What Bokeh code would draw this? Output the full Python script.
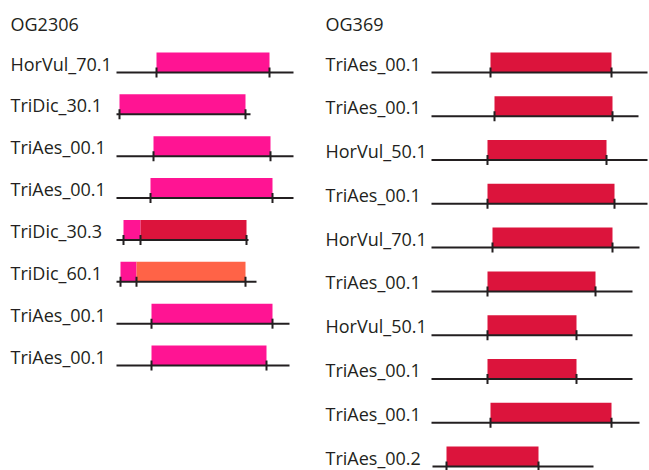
from bokeh.plotting import figure
from bokeh.layouts import row
from bokeh.models import Range1d, ColumnDataSource
from bokeh.embed import file_html
from bokeh.resources import INLINE
from bokeh.core.properties import value

# ---- OG2306: protein extents and domain spans (alignment positions) ----
og2306_names = ["HorVul_70.1", "TriDic_30.1", "TriAes_00.1", "TriAes_00.1",
                "TriDic_30.3", "TriDic_60.1", "TriAes_00.1", "TriAes_00.1"]
og2306_start = [0, 0, 0, 0, 0, 0, 0, 0]
og2306_end = [177, 134, 177, 177, 132, 140, 173, 173]
og2306_dom_row = [0, 1, 2, 3, 4, 4, 5, 5, 6, 7]
og2306_dom_start = [40, 3, 37, 34, 7, 24, 4, 20, 35, 35]
og2306_dom_end = [153, 129, 154, 156, 24, 130, 20, 129, 156, 150]
og2306_dom_class = ["a", "a", "a", "a", "a", "b", "a", "c", "a", "a"]

# ---- OG369 ----
og369_names = ["TriAes_00.1", "TriAes_00.1", "HorVul_50.1", "TriAes_00.1",
               "HorVul_70.1", "TriAes_00.1", "HorVul_50.1", "TriAes_00.1",
               "TriAes_00.1", "TriAes_00.2"]
og369_start = [0, 0, 0, 0, 0, 0, 0, 0, 0, 1]
og369_end = [216, 207, 216, 216, 208, 201, 201, 201, 208, 162]
og369_dom_row = [0, 1, 2, 3, 4, 5, 6, 7, 8, 9]
og369_dom_start = [59, 63, 56, 56, 61, 56, 56, 56, 59, 15]
og369_dom_end = [180, 181, 175, 183, 181, 164, 145, 145, 180, 107]
og369_dom_class = ["b"] * 10

DOMAIN_COLORS = {"a": "#ff1493", "b": "#dc143c", "c": "#ff6347"}
INK = "#231f20"
FONT = value("Open Sans")
FONT_SIZE = "18px"
HEIGHT = 470
TEXT_LIFT = 9  # raise labels so their baseline meets the protein line


def panel(title, names, starts, ends, d_row, d_start, d_end, d_class,
          width, origin, label_left, first_y, step):
    p = figure(width=width, height=HEIGHT,
               x_range=Range1d(-origin, width - origin),
               y_range=Range1d(HEIGHT, 0),
               x_axis_type=None, y_axis_type=None,
               output_backend="svg", toolbar_location=None,
               min_border=0, background_fill_color="white",
               border_fill_color="white")
    p.grid.visible = False
    p.outline_line_color = None

    ys = [first_y + step * i for i in range(len(names))]
    label_x = label_left - origin

    # domain boxes sit on top of each protein line
    dom = ColumnDataSource(dict(
        left=d_start, right=d_end,
        bottom=[ys[r] for r in d_row],
        top=[ys[r] - 20 for r in d_row],
        color=[DOMAIN_COLORS[c] for c in d_class],
    ))
    p.quad(left="left", right="right", bottom="bottom", top="top",
           fill_color="color", line_color=None, source=dom)

    # protein backbone
    p.segment(x0=starts, x1=ends, y0=ys, y1=ys, line_color=INK, line_width=2)

    # boundary ticks at every domain edge
    tx, ty = [], []
    for r, s, e in zip(d_row, d_start, d_end):
        for b in (s, e):
            if (b, ys[r]) not in zip(tx, ty):
                tx.append(b)
                ty.append(ys[r])
    p.segment(x0=tx, x1=tx, y0=[y - 5 for y in ty], y1=[y + 5 for y in ty],
              line_color=INK, line_width=2)

    # gene labels
    p.text(x=[label_x] * len(names), y=[y - TEXT_LIFT for y in ys], text=names,
           text_font=FONT, text_font_size=FONT_SIZE, text_color=INK,
           text_baseline="alphabetic", text_align="left")
    # group title
    p.text(x=[label_x], y=[31 - TEXT_LIFT + 1], text=[title],
           text_font=FONT, text_font_size=FONT_SIZE, text_color=INK,
           text_baseline="alphabetic", text_align="left")
    return p


left = panel("OG2306", og2306_names, og2306_start, og2306_end,
             og2306_dom_row, og2306_dom_start, og2306_dom_end, og2306_dom_class,
             width=310, origin=116, label_left=10, first_y=72, step=41.86)
right = panel("OG369", og369_names, og369_start, og369_end,
              og369_dom_row, og369_dom_start, og369_dom_end, og369_dom_class,
              width=339, origin=121, label_left=15, first_y=72, step=43.78)

layout = row(left, right)
open("out.html", "w").write(file_html(layout, INLINE))
